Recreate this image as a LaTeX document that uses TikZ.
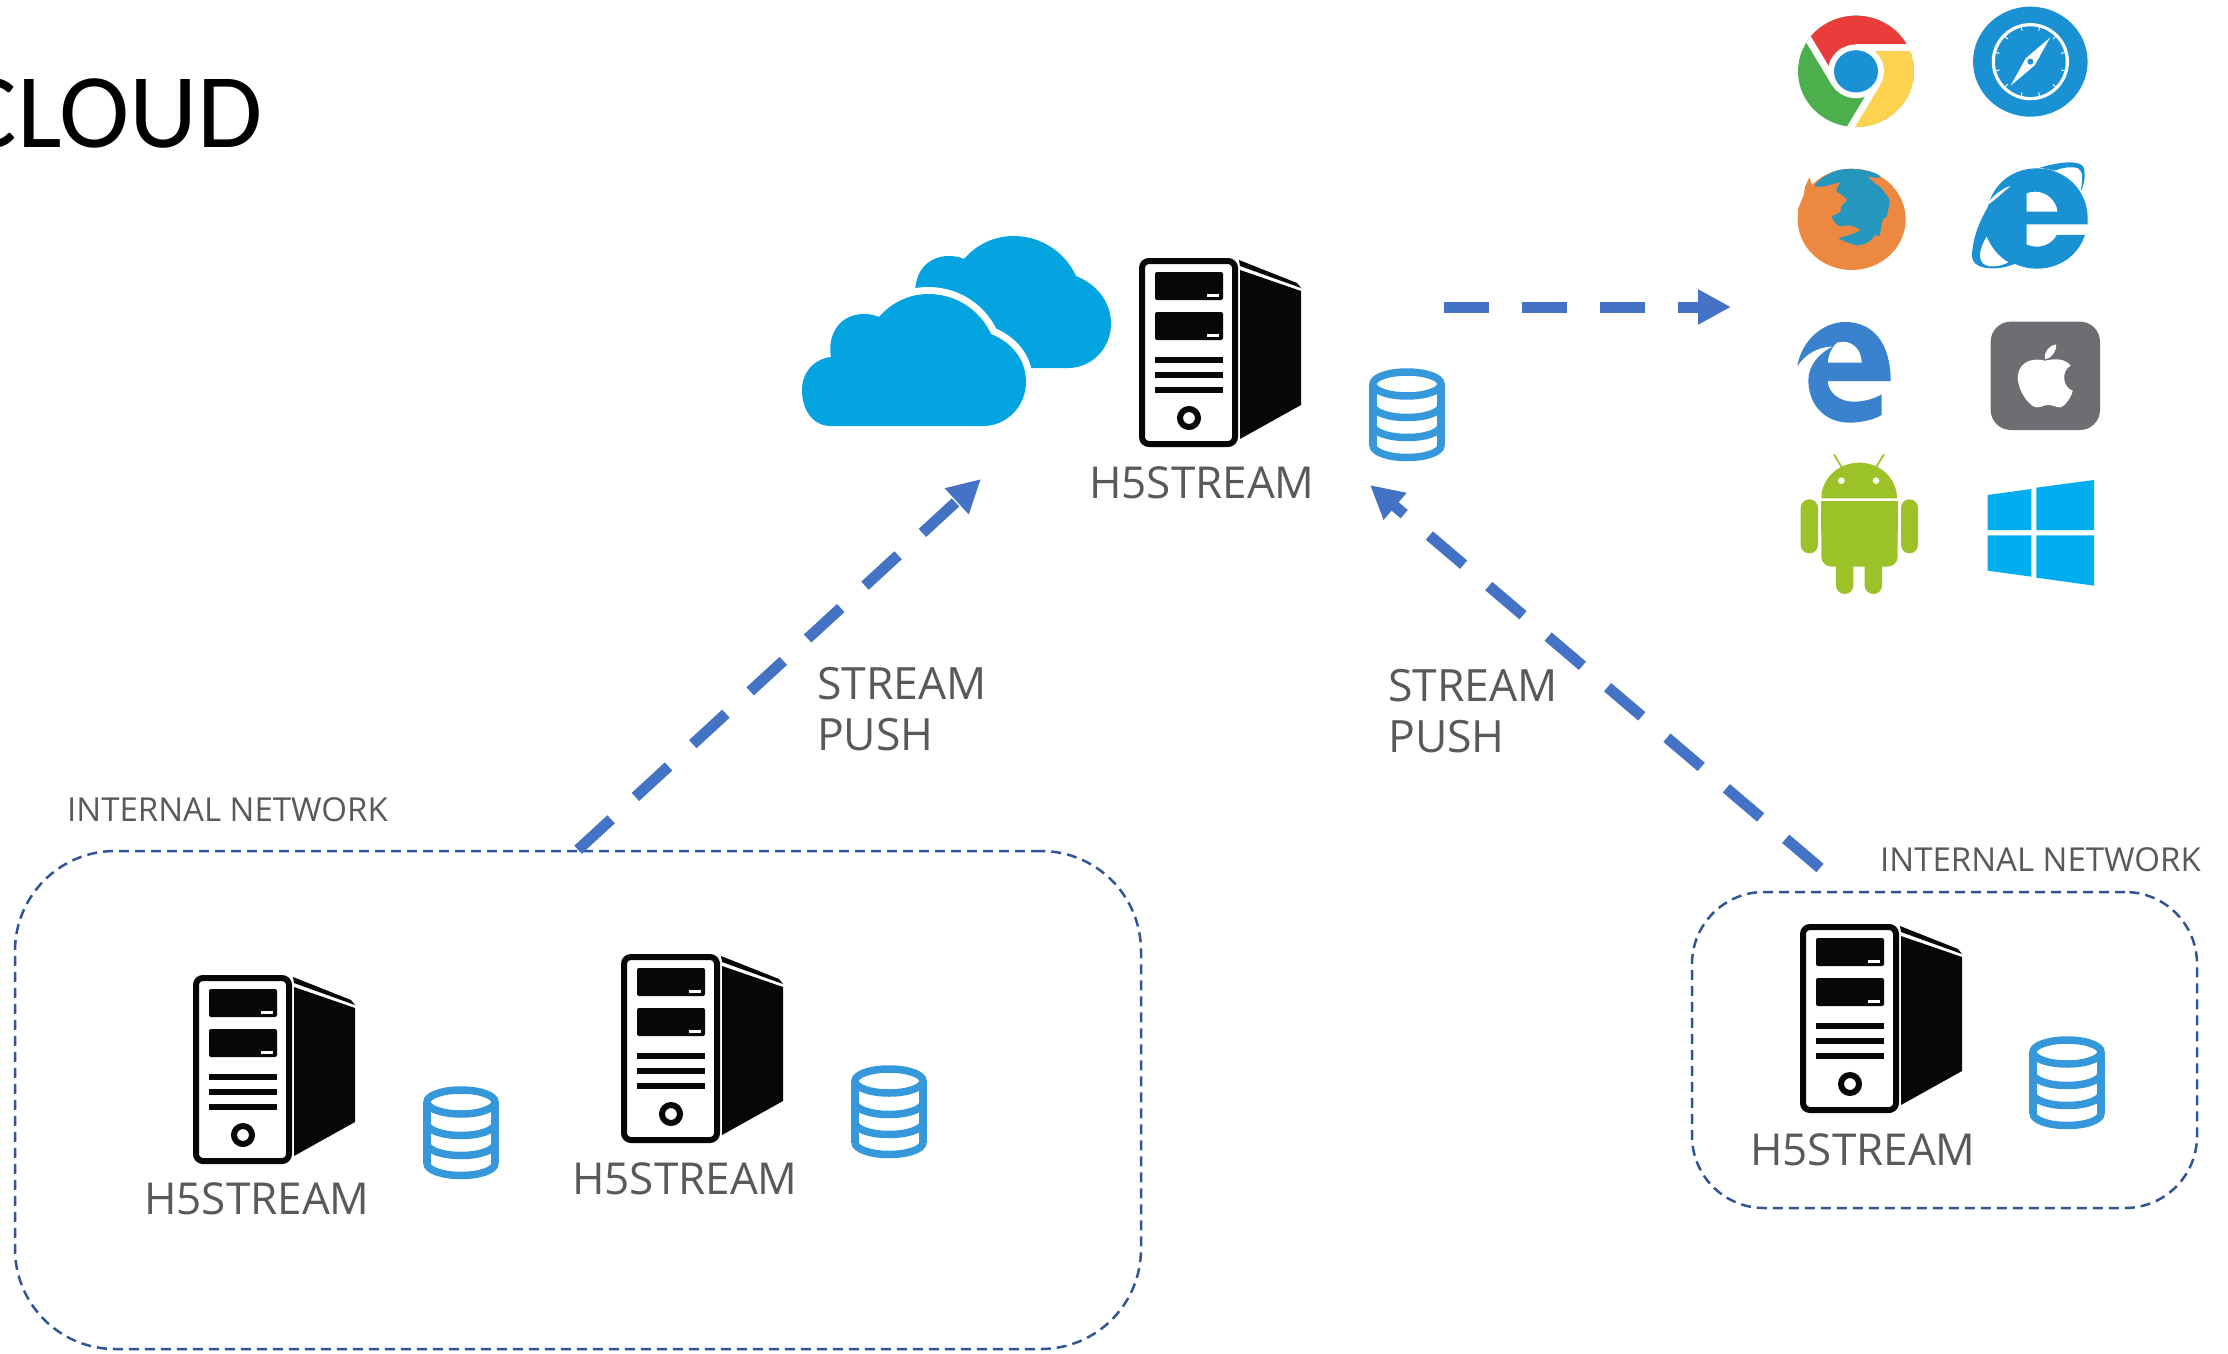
\documentclass[tikz,border=0pt]{standalone}
\usepackage{fontspec}
\setmainfont{Open Sans}
\newfontfamily\titlefont{Carlito}
\usetikzlibrary{arrows.meta,calc}
\definecolor{txtgray}{HTML}{595959}
\definecolor{arrowblue}{HTML}{4472C4}
\definecolor{boxblue}{HTML}{2F5597}
\definecolor{dbblue}{HTML}{3498DB}
\definecolor{cloudblue}{HTML}{03A4E0}
\definecolor{iconblue}{HTML}{1A91D3}
\definecolor{chromered}{HTML}{EB3C3C}
\definecolor{chromeyellow}{HTML}{FDD24E}
\definecolor{chromegreen}{HTML}{4CAF4C}
\definecolor{foxorange}{HTML}{EC8840}
\definecolor{foxblue}{HTML}{2596BE}
\definecolor{edgeblue}{HTML}{3A82CE}
\definecolor{applegray}{HTML}{6D6E71}
\definecolor{droidgreen}{HTML}{9BC227}
\definecolor{winblue}{HTML}{00ADEF}
\definecolor{srvblack}{HTML}{070608}
\tikzset{
  srvlabel/.style={text=txtgray,font=\fontsize{44}{50}\selectfont,inner sep=0pt},
  pushlabel/.style={text=txtgray,font=\fontsize{44.5}{51}\selectfont,inner sep=0pt,align=left,anchor=west},
  netlabel/.style={text=txtgray,font=\fontsize{33}{38}\selectfont,inner sep=0pt},
  netbox/.style={draw=boxblue,line width=2.5pt,dash pattern=on 10pt off 6pt,inner sep=0pt},
  flow/.style={draw=arrowblue,line width=11pt,dash pattern=on 45pt off 33pt,-{Triangle[length=33pt,width=33pt]}},
  server/.pic={
    \draw[srvblack,line width=6pt,fill=white,rounded corners=7pt] (3,3) rectangle (96,186);
    \fill[srvblack,rounded corners=2pt] (16,14) rectangle (84,42);
    \fill[srvblack,rounded corners=2pt] (16,54) rectangle (84,82);
    \fill[white] (68,36) rectangle (80,38.5);
    \fill[white] (68,76) rectangle (80,78.5);
    \fill[srvblack] (16,99) rectangle (84,104.5);
    \fill[srvblack] (16,114) rectangle (84,120);
    \fill[srvblack] (16,129) rectangle (84,134.5);
    \draw[srvblack,line width=6pt] (50,160) circle (9);
    \fill[srvblack] (101,12) -- (162,33) -- (162,147) -- (101,181) -- cycle;
    \fill[srvblack] (100,2) -- (158,25) -- (162,30) -- (101,8) -- cycle;
  },
  dbicon/.pic={
    \begin{scope}[dbblue,line width=7.5pt]
      \draw (38,16) ellipse (34 and 12);
      \draw (4,16) -- (4,77.5);
      \draw (72,16) -- (72,77.5);
      \draw (4,37.5) arc[start angle=180,end angle=0,x radius=34,y radius=12];
      \draw (4,57.5) arc[start angle=180,end angle=0,x radius=34,y radius=12];
      \draw (4,77.5) arc[start angle=180,end angle=0,x radius=34,y radius=12];
    \end{scope}
  },
  cloudshape/.pic={
    \path[pic actions] (29,132) .. controls (10,132) and (0,115) .. (0,96)
      .. controls (0,78) and (12,65) .. (29,63)
      .. controls (25,40) and (38,20) .. (62,20)
      .. controls (67,20) and (73,21) .. (77,23)
      .. controls (90,8) and (108,0) .. (126,0)
      .. controls (158,0) and (180,20) .. (189,40)
      .. controls (209,48) and (224,65) .. (224,88)
      .. controls (224,112) and (205,132) .. (181,132) -- cycle;
  }
}
\begin{document}
\begin{tikzpicture}[x=1pt,y=-1pt]
\useasboundingbox (0,0) rectangle (2228,1354);

% title
\node[anchor=east,inner sep=0pt,font=\titlefont\fontsize{106}{120}\selectfont,text=black] (title) at (263,113) {CLOUD};

% clouds
\pic[fill=cloudblue] at (887,236) {cloudshape};
\pic[fill=cloudblue,draw=white,line width=14pt] at (802,294) {cloudshape};
\pic[fill=cloudblue] at (802,294) {cloudshape};

% servers
\pic at (1139,258) {server};
\pic at (193,975) {server};
\pic at (621,954) {server};
\pic at (1800,924) {server};

% databases
\pic at (1369,368) {dbicon};
\pic at (423,1086) {dbicon};
\pic at (851,1065) {dbicon};
\pic at (2029,1036) {dbicon};

% labels
\node[srvlabel] (lblC) at (1202,483) {H5STREAM};
\node[srvlabel] (lblA) at (257,1199) {H5STREAM};
\node[srvlabel] (lblB) at (685,1179) {H5STREAM};
\node[srvlabel] (lblD) at (1863,1150) {H5STREAM};
\node[pushlabel] (pushL) at (817,709) {STREAM\\PUSH};
\node[pushlabel] (pushR) at (1388,711) {STREAM\\PUSH};
\node[netlabel,anchor=west] (netL) at (67,810) {INTERNAL NETWORK};
\node[netlabel,anchor=east] (netR) at (2201,860) {INTERNAL NETWORK};

% network boxes
\node[netbox,rounded corners=100pt,minimum width=1126pt,minimum height=498pt] (boxL) at (578,1100) {};
\node[netbox,rounded corners=72pt,minimum width=505pt,minimum height=316pt] (boxR) at (1944.5,1050) {};

% connectors
\coordinate (tipL) at (981,479);
\coordinate (tipR) at (1370,485);
\coordinate (srcR) at (1820,868);
\coordinate (srcT) at (1444,307);
\coordinate (tipT) at (1731,307);
\draw[flow] (boxL.north) -- (tipL);
\draw[flow] (srcR) -- (tipR);
\draw[flow] (srcT) -- (tipT);

% --- browser icons, zoom coordinates (3x) ---
\begin{scope}[shift={(1760,0)},scale=1/3]
  % chrome
  \begin{scope}[shift={(288,214)},yscale=0.96,scale=3]
    \begin{scope}
      \clip (0,0) circle (58);
      \fill[chromegreen] (0,0) circle (58);
      \fill[chromered] (-21.2,12.25) -- (-71.2,-74.35) -- (70,-74) -- (70,-24.5) -- (0,-24.5) -- cycle;
      \fill[chromeyellow] (0,-24.5) -- (100,-24.5) -- (100,100) -- (-28.8,98.85) -- (21.2,12.25) -- cycle;
      \draw[white,line width=7pt] (0,-24.5) -- (100,-24.5);
      \draw[white,line width=7pt] (21.2,12.25) -- (-28.8,98.85);
      \draw[white,line width=7pt] (-21.2,12.25) -- (-71.2,-74.35);
    \end{scope}
    \fill[white] (0,0) circle (28);
    \fill[iconblue] (0,0) circle (22);
  \end{scope}
  % safari
  \begin{scope}[shift={(811,185)},scale=3]
    \fill[iconblue] (0,0) ellipse (57.3 and 55);
    \draw[white,line width=3.2pt] (0,0) circle (37);
    \foreach \a in {15,45,...,345}
      \draw[white,line width=1pt] ({36*cos(\a)},{36*sin(\a)}) -- ({32*cos(\a)},{32*sin(\a)});
    \fill[white] (19.7,-24) -- (4.5,3.5) -- (-19.7,24) -- (-4.5,-3.5) -- cycle;
    \fill[iconblue] (0,0) circle (3);
  \end{scope}
  % firefox
  \fill[foxorange] (275,658) ellipse (162 and 152);
  \fill[foxorange] (113,630) -- (130,590) -- (135,560) -- (148,532) -- (160,565) -- (200,570) -- (200,660) -- (120,660) -- cycle;
  \fill[foxblue,rounded corners=3pt] (160,560) .. controls (190,525) and (230,507) .. (270,507)
    .. controls (305,507) and (340,515) .. (365,530) -- (350,535) -- (320,528) -- (345,550) -- (365,565)
    -- (390,600) -- (380,655) -- (370,650) -- (357,715) -- (350,700) -- (325,728) -- (290,738)
    -- (232,715) -- (270,705) -- (305,690) -- (270,675) -- (235,680) -- (212,650) -- (245,635)
    -- (240,620) -- (265,600) -- (225,570) -- (245,545) -- (190,560) -- cycle;
  % IE
  \fill[iconblue] (760,530) .. controls (690,590) and (636,690) .. (636,770)
    .. controls (636,805) and (700,815) .. (755,795) -- (800,780) -- (800,560) -- cycle;
  \fill[iconblue,even odd rule] (983,673) -- (983,655) .. controls (983,570) and (915,505) .. (830,505)
    .. controls (745,505) and (680,570) .. (680,655) .. controls (680,740) and (745,806) .. (830,806)
    .. controls (900,806) and (955,765) .. (975,705) -- (890,705)
    .. controls (878,728) and (855,740) .. (830,740) .. controls (790,740) and (760,710) .. (760,673) -- cycle
    (760,635) .. controls (765,600) and (790,575) .. (825,575) .. controls (860,575) and (888,600) .. (893,635) -- cycle;
  \fill[iconblue] (840,503) .. controls (900,485) and (955,480) .. (970,500)
    .. controls (980,525) and (970,560) .. (962,575) .. controls (968,540) and (970,515) .. (955,505)
    .. controls (935,498) and (905,503) .. (885,512) -- cycle;
  \fill[white] (675,620) .. controls (695,590) and (725,565) .. (752,558) .. controls (725,580) and (700,605) .. (675,620) -- cycle;
  \fill[white] (680,710) .. controls (655,750) and (650,790) .. (685,798)
    .. controls (705,802) and (730,795) .. (745,787) .. controls (715,770) and (692,740) .. (680,710) -- cycle;
\end{scope}

\begin{scope}[shift={(1760,300)},scale=1/3]
  % edge
  \fill[edgeblue,even odd rule] (112,198) .. controls (125,120) and (190,66) .. (255,66)
    .. controls (340,66) and (392,130) .. (392,243) -- (203,243)
    .. controls (205,280) and (240,305) .. (280,305) .. controls (310,305) and (340,298) .. (365,283)
    -- (365,345) .. controls (340,360) and (300,368) .. (270,368)
    .. controls (190,368) and (145,310) .. (145,240) .. controls (145,200) and (175,160) .. (218,140)
    .. controls (170,140) and (135,165) .. (112,198) -- cycle
    (203,188) -- (305,188) .. controls (305,150) and (280,125) .. (250,125)
    .. controls (245,125) and (238,126) .. (232,127) .. controls (215,140) and (205,165) .. (203,188) -- cycle;
  % apple
  \fill[applegray,rounded corners=20pt] (692,65) rectangle (1020,390);
  \fill[white] (855,182) .. controls (830,175) and (775,175) .. (773,235)
    .. controls (775,275) and (810,322) .. (830,322) .. controls (845,322) and (850,315) .. (865,315)
    .. controls (880,315) and (885,322) .. (900,322) .. controls (915,320) and (935,290) .. (938,272)
    .. controls (905,260) and (905,210) .. (932,197) .. controls (915,175) and (885,175) .. (855,182) -- cycle;
  \fill[white] (855,178) .. controls (850,155) and (870,135) .. (888,133) .. controls (890,155) and (875,175) .. (855,178) -- cycle;
  % android
  \draw[droidgreen,line width=1.7pt] (222,463) -- (245,502) (372,463) -- (348,502);
  \fill[droidgreen] (184,595) .. controls (184,535) and (235,488) .. (298,488) .. controls (360,488) and (411,535) .. (411,595) -- cycle;
  \fill[white] (244,542) circle (10);
  \fill[white] (348,542) circle (10);
  \fill[droidgreen,rounded corners=10pt] (184,604) rectangle (413,800);
  \fill[droidgreen] (184,604) rectangle (413,700);
  \fill[droidgreen,rounded corners=8.5pt] (122,598) rectangle (174,760);
  \fill[droidgreen,rounded corners=8.5pt] (423,598) rectangle (474,760);
  \fill[droidgreen,rounded corners=8.5pt] (228,760) rectangle (280,882);
  \fill[droidgreen,rounded corners=8.5pt] (314,760) rectangle (366,882);
  % windows
  \fill[winblue] (683,585) -- (814,567) -- (814,690) -- (683,690) -- cycle;
  \fill[winblue] (829,563) -- (1002,540) -- (1002,690) -- (829,690) -- cycle;
  \fill[winblue] (683,706) -- (814,706) -- (814,830) -- (683,812) -- cycle;
  \fill[winblue] (829,706) -- (1002,706) -- (1002,857) -- (829,833) -- cycle;
\end{scope}
\end{tikzpicture}
\end{document}
